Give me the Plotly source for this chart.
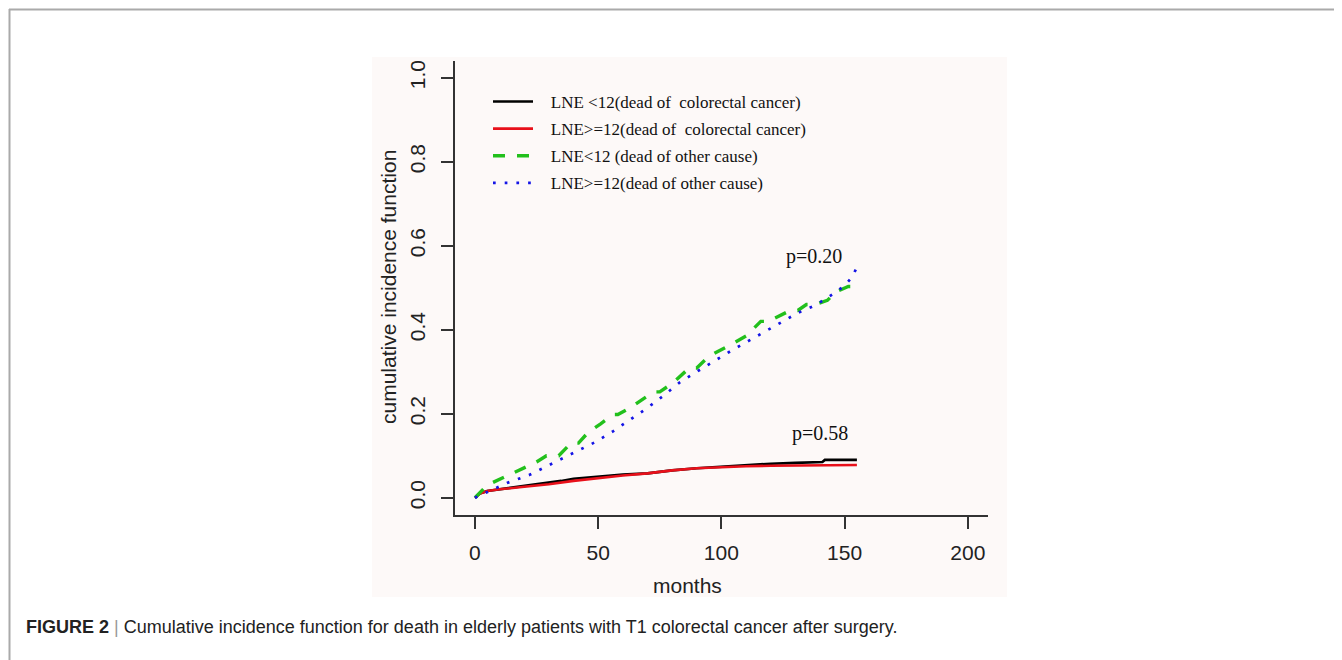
import plotly.graph_objects as go

# ---- data ----
months_black = [0, 2, 5, 10, 20, 30, 35, 40, 50, 55, 60, 70, 80, 90, 100, 110, 120, 130, 141, 142, 155]
cif_black = [0, 0.010, 0.016, 0.020, 0.027, 0.035, 0.040, 0.045, 0.050, 0.053, 0.055, 0.058, 0.065, 0.070, 0.074, 0.077, 0.081, 0.083, 0.085, 0.090, 0.090]

months_red = [0, 2, 5, 10, 20, 30, 40, 50, 60, 70, 80, 90, 100, 110, 120, 130, 155]
cif_red = [0, 0.010, 0.016, 0.020, 0.026, 0.032, 0.040, 0.047, 0.053, 0.058, 0.065, 0.070, 0.073, 0.075, 0.076, 0.077, 0.078]

months_green = [0, 5, 25, 29, 34, 39, 42, 46, 51, 56, 58, 63, 70, 73, 75, 80, 87, 90, 95, 100, 104, 110, 116, 119, 122.5, 128, 131, 134.5, 138, 143, 146.4, 151.5, 155]
cif_green = [0, 0.030, 0.085, 0.100, 0.100, 0.130, 0.130, 0.156, 0.176, 0.198, 0.198, 0.214, 0.242, 0.252, 0.252, 0.272, 0.309, 0.309, 0.337, 0.352, 0.365, 0.385, 0.420, 0.420, 0.430, 0.446, 0.446, 0.460, 0.460, 0.470, 0.490, 0.503, 0.503]

months_blue = [0, 5, 13, 22, 29, 35.5, 42, 49, 56, 63, 70, 76.5, 83, 90, 97, 104, 110.6, 117.4, 124, 131, 138, 145, 150, 153, 154.6]
cif_blue = [0, 0.014, 0.035, 0.054, 0.074, 0.093, 0.113, 0.133, 0.158, 0.186, 0.214, 0.243, 0.274, 0.300, 0.326, 0.350, 0.372, 0.394, 0.417, 0.440, 0.458, 0.484, 0.505, 0.525, 0.544]

series_names = [
    "LNE <12(dead of  colorectal cancer)",
    "LNE>=12(dead of  colorectal cancer)",
    "LNE<12 (dead of other cause)",
    "LNE>=12(dead of other cause)",
]
x_ticks = [0, 50, 100, 150, 200]
y_ticks = [0.0, 0.2, 0.4, 0.6, 0.8, 1.0]
y_tick_labels = ["0.0", "0.2", "0.4", "0.6", "0.8", "1.0"]
p_labels = ["p=0.20", "p=0.58"]
p_pos = [(137.6, 0.575), (140.0, 0.152)]
caption_bold = "FIGURE 2"
caption_rest = "Cumulative incidence function for death in elderly patients with T1 colorectal cancer after surgery."

# page has an 8px body margin: figure occupies screen px 8..1342, 8..660
OFF = 8
W, H = 1342 - OFF, 660 - OFF
def px(x):
    return (x - OFF) / W
def py(y):
    return 1 - (y - OFF) / H

fig = go.Figure()
styles = [
    dict(color="#000000", width=2.6),
    dict(color="#e8101a", width=2.6),
    dict(color="#22c01c", width=3.4, dash="12px,12px"),
    dict(color="#1414e6", width=2.7, dash="2.7px,9px"),
]
data = [(months_black, cif_black), (months_red, cif_red), (months_green, cif_green), (months_blue, cif_blue)]
pad = "&nbsp;&nbsp;&nbsp;"
for i, ((xs, ys), nm, st) in enumerate(zip(data, series_names, styles)):
    fig.add_trace(go.Scatter(x=xs, y=ys, mode="lines", name=pad + nm, line=st,
                             legendgroup=f"g{i}"))

axis_font = dict(family="Liberation Sans, Arial, sans-serif", size=21, color="#222222")
fig.update_layout(
    width=W, height=H,
    margin=dict(l=0, r=0, t=0, b=0),
    paper_bgcolor="white",
    plot_bgcolor="rgba(0,0,0,0)",
    showlegend=True,
    legend=dict(
        x=px(488), y=py(84), xanchor="left", yanchor="top",
        bgcolor="rgba(0,0,0,0)", borderwidth=0,
        font=dict(family="Liberation Serif, Times New Roman, serif", size=17, color="#111111"),
        tracegroupgap=2, itemwidth=40,
    ),
    xaxis=dict(
        domain=[px(455), px(988)], range=[-8.1, 208.2],
        tickvals=x_ticks, ticks="outside", ticklen=13, tickwidth=1.5, tickcolor="#333333",
        showline=True, linecolor="#333333", linewidth=1.5, mirror=False,
        showgrid=False, zeroline=False, tickfont=axis_font, ticklabelstandoff=6,
    ),
    yaxis=dict(
        domain=[py(514.5), py(61)], range=[-0.04, 1.04],
        tickvals=y_ticks, ticktext=y_tick_labels, tickangle=-90,
        ticks="outside", ticklen=12, tickwidth=1.5, tickcolor="#333333",
        showline=True, linecolor="#333333", linewidth=1.5, mirror=False,
        showgrid=False, zeroline=False, tickfont=axis_font, ticklabelstandoff=8,
    ),
)

shapes = [
    dict(type="rect", xref="paper", yref="paper", x0=px(372), x1=px(1007), y0=py(597), y1=py(57),
         fillcolor="#fdf9f8", line=dict(width=0), layer="below"),
    dict(type="line", xref="paper", yref="paper", x0=px(9), x1=1, y0=py(9.5), y1=py(9.5),
         line=dict(color="#aaaaaa", width=2)),
    dict(type="line", xref="paper", yref="paper", x0=px(9.5), x1=px(9.5), y0=0, y1=py(9),
         line=dict(color="#aaaaaa", width=2)),
]
fig.update_layout(shapes=shapes)

ann = []
for lbl, (ax_, ay_) in zip(p_labels, p_pos):
    ann.append(dict(x=ax_, y=ay_, xref="x", yref="y", text=lbl, showarrow=False,
                    font=dict(family="Liberation Serif, Times New Roman, serif", size=20, color="#111111")))
ann.append(dict(x=px(687), y=py(585), xref="paper", yref="paper", text="months", showarrow=False,
                font=axis_font, xanchor="center", yanchor="middle"))
ann.append(dict(x=px(388), y=py(287), xref="paper", yref="paper", text="cumulative incidence function",
                showarrow=False, textangle=-90, font=axis_font, xanchor="center", yanchor="middle"))
ann.append(dict(x=px(24), y=py(627), xref="paper", yref="paper",
                text=f"<b>{caption_bold}</b> <span style='color:#999999'>|</span> {caption_rest}",
                showarrow=False, xanchor="left", yanchor="middle",
                font=dict(family="Liberation Sans, Arial, sans-serif", size=18, color="#222222")))
fig.update_layout(annotations=ann)

fig.write_html("out.html")
